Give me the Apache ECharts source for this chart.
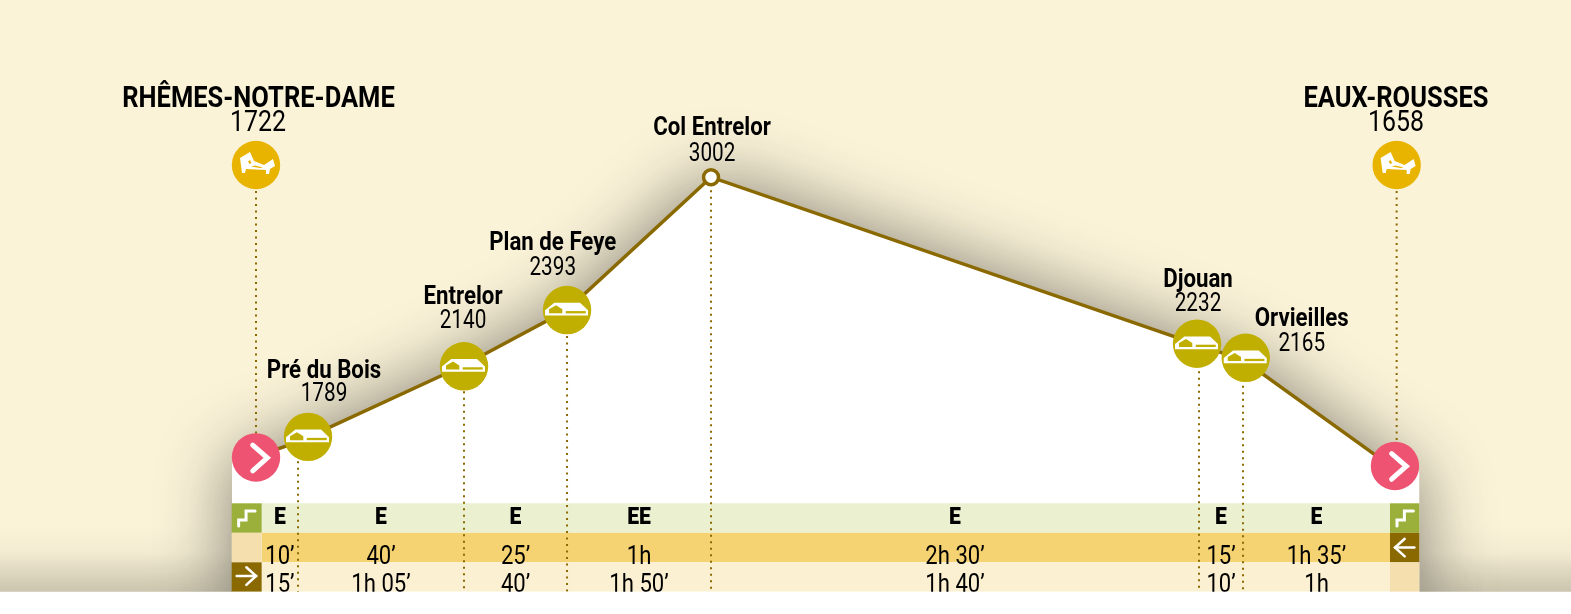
<!DOCTYPE html>
<html>
<head>
<meta charset="utf-8">
<title>Rhêmes-Notre-Dame - Eaux-Rousses</title>
<script src="https://cdn.jsdelivr.net/npm/echarts@6/dist/echarts.min.js"></script>
<style>
html, body { margin: 0; padding: 0; background: #fbf3d8; }
#chart { width: 1571px; height: 614px; }
</style>
</head>
<body>
<div id="chart"></div>
<script>
// stops along the route
var stopNames = ['RHÊMES-NOTRE-DAME', 'Pré du Bois', 'Entrelor', 'Plan de Feye', 'Col Entrelor', 'Djouan', 'Orvieilles', 'EAUX-ROUSSES'];
var stopAltitudes = [1722, 1789, 2140, 2393, 3002, 2232, 2165, 1658];
var stopDistances = [0, 0.467, 2.311, 3.456, 5.056, 10.478, 10.967, 12.674];
var stopKinds = ['bed', 'hut', 'hut', 'hut', 'pass', 'hut', 'hut', 'bed'];

// table under the profile, one value per leg
var difficulty = ['E', 'E', 'E', 'EE', 'E', 'E', 'E'];
var timesBack = ['10’', '40’', '25’', '1h', '2h 30’', '15’', '1h 35’'];
var timesOut = ['15’', '1h 05’', '40’', '1h 50’', '1h 40’', '10’', '1h'];
var tableRows = [difficulty, timesBack, timesOut];
var rowNames = ['difficulty', 'back', 'out'];

// layout only, px relative to the stop on the axes
var markerShift = [[0, 1], [10, -5], [0, 1], [0, 0], [0, 0], [-2, -1.5], [2.7, -2], [-1.7, -4.5]];
var nameShift = [[2.5, -357], [26, -70.5], [-1, -67.5], [-14.3, -66.3], [1, -48.5], [-1, -64.8], [58.7, -40], [-0.7, -371]];
var altShift = [[2, -332.8], [26, -46.8], [-1, -43.7], [-14.3, -41.5], [1, -22.8], [-1, -40.5], [58.7, -15.2], [-0.7, -346.8]];
var bedY = 165;
var edgePad = 24;
var rowFill = ['#ebf1d0', '#f5d373', '#fcf0d2'];
var rowTextShift = [0.5, 10, 8];

var BROWN = '#8a6a00', OLIVE = '#c0af00', GOLD = '#e9b400', PINK = '#ee5472', GREEN = '#9ab03a', PALE = '#f5dfae';
var FONT = 'Roboto';

function label(text, x, y, size, weight, sx) {
    return {
        type: 'text', x: x, y: y, scaleX: sx,
        style: { text: text, fontFamily: FONT, fontSize: size, fontWeight: weight, fill: '#000', align: 'center', verticalAlign: 'middle' }
    };
}
function poly(pts, cx, cy, fill) {
    return { type: 'polygon', x: cx, y: cy, shape: { points: pts }, style: { fill: fill } };
}
function stroke(pts, cx, cy, w) {
    return { type: 'polyline', x: cx, y: cy, shape: { points: pts }, style: { stroke: '#fff', fill: 'none', lineWidth: w, lineCap: 'round', lineJoin: 'miter' } };
}
function disc(cx, cy, r, fill) {
    return { type: 'circle', shape: { cx: cx, cy: cy, r: r }, style: { fill: fill } };
}
function hutIcon(x, y) {
    return [
        disc(x, y, 24.2, OLIVE),
        poly([[-22, 5.5], [-22, 0.3], [-12.7, -7.3], [13, -7.3], [21, 0.3], [21, 5.5]], x, y, '#fff'),
        poly([[-18, 3.3], [-18, -0.7], [-11, -4.7], [-4.7, -0.7], [-4.7, 3.3]], x, y, OLIVE),
        poly([[-1.3, 1], [18.7, 1], [18.7, 3.3], [-1.3, 3.3]], x, y, OLIVE)
    ];
}
function bedIcon(x, y) {
    return [
        disc(x, y, 24.2, GOLD),
        poly([[-16, -7], [-6, -13], [-2, -4], [8, 0], [17, -6], [19, 1], [14, 4], [13, 9], [10, 9], [10, 5], [-10, 4], [-11, 8], [-14, 8]], x, y, '#fff'),
        poly([[-8, -3.5], [-6, -5], [-4.5, -2], [-6.5, -1]], x, y, GOLD),
        poly([[-5, 1.5], [-1, 0.5], [7, 2.5], [4, 3]], x, y, GOLD)
    ];
}
function chevronIcon(x, y) {
    return [
        disc(x, y, 24.2, PINK),
        stroke([[-3.3, -12.3], [11.3, 0.3], [-3.3, 13.3]], x, y, 5)
    ];
}
var stairs = [[-7.7, 8], [-7.7, 2], [-0.3, 2], [-0.3, -7], [8.7, -7]];

function columnEdges() {
    // table runs between the two icon columns, inner edges are the stops
    var e = stopDistances.slice();
    e[0] = 0.063;
    e[e.length - 1] = 12.6;
    return e;
}

var option = {
    animation: false,
    backgroundColor: 'transparent',
    graphic: [
        {
            type: 'rect', z: -5, shape: { x: 0, y: 525, width: 1571, height: 67 },
            style: { fill: new echarts.graphic.LinearGradient(0, 0, 0, 1, [
                { offset: 0, color: 'rgba(70,70,60,0)' },
                { offset: 0.4, color: 'rgba(70,70,60,0.04)' },
                { offset: 1, color: 'rgba(70,70,60,0.27)' }
            ]) }
        },
        { type: 'rect', z: 50, shape: { x: 0, y: 591.7, width: 1571, height: 23 }, style: { fill: '#fff' } }
    ],
    grid: [
        { left: 229, width: 1197, top: 134, height: 483 },
        { left: 229, width: 1197, top: 503.3, height: 88.5 }
    ],
    xAxis: [
        { type: 'value', gridIndex: 0, min: -0.3, max: 13, show: false },
        { type: 'value', gridIndex: 1, min: -0.3, max: 13, show: false }
    ],
    yAxis: [
        { type: 'value', gridIndex: 0, min: 1000, max: 3200, show: false },
        { type: 'category', gridIndex: 1, data: rowNames, inverse: true, show: false }
    ],
    series: [
        // white terrain with the big soft shadow
        {
            type: 'custom', z: 1, coordinateSystem: 'cartesian2d', xAxisIndex: 0, yAxisIndex: 0,
            silent: true,
            data: [0],
            renderItem: function (params, api) {
                var pts = stopDistances.map(function (d, i) { return api.coord([d, stopAltitudes[i]]); });
                var last = pts[pts.length - 1];
                var floor = api.coord([0, 1000])[1];
                var all = [[pts[0][0] - edgePad, floor], [pts[0][0] - edgePad, pts[0][1]]].concat(pts)
                    .concat([[last[0] + edgePad - 1.4, last[1]], [last[0] + edgePad - 1.4, floor]]);
                return {
                    type: 'polygon', shape: { points: all },
                    style: { fill: '#fff', shadowBlur: 72, shadowColor: 'rgba(40,40,40,0.6)' }
                };
            }
        },
        // table bands and icon cells
        {
            type: 'custom', z: 3, coordinateSystem: 'cartesian2d', xAxisIndex: 1, yAxisIndex: 1,
            silent: true,
            data: [0, 1, 2],
            renderItem: function (params, api) {
                var r = params.dataIndex;
                var edges = columnEdges();
                var c0 = api.coord([edges[0], r]);
                var c1 = api.coord([edges[edges.length - 1], r]);
                var h = api.size([0, 1])[1];
                var top = c0[1] - h / 2;
                var leftX = c0[0] - 30, rightX = c1[0];
                var kids = [
                    { type: 'rect', shape: { x: c0[0], y: top, width: c1[0] - c0[0], height: h }, style: { fill: rowFill[r] } }
                ];
                var leftFill = [GREEN, PALE, BROWN][r], rightFill = [GREEN, BROWN, PALE][r];
                kids.push({ type: 'rect', shape: { x: leftX, y: top, width: 30, height: h }, style: { fill: leftFill } });
                kids.push({ type: 'rect', shape: { x: rightX, y: top, width: 29.3, height: h }, style: { fill: rightFill } });
                var lx = leftX + 14.7, rx = rightX + 14.7, my = top + h / 2;
                if (r === 0) {
                    kids.push(stroke(stairs, lx, my, 3));
                    kids.push(stroke(stairs, rx, my, 3));
                } else if (r === 1) {
                    kids.push(stroke([[9.7, 0], [-9.7, 0]], rx, my, 2.5));
                    kids.push(stroke([[0, -8.8], [-9.7, 0], [0, 8.8]], rx, my, 2.5));
                } else {
                    kids.push(stroke([[-9.7, -1], [9.7, -1]], lx, my, 2.5));
                    kids.push(stroke([[0, -9.8], [9.7, -1], [0, 7.8]], lx, my, 2.5));
                }
                return { type: 'group', children: kids };
            }
        },
        // table text, above every band
        {
            type: 'custom', z: 4, coordinateSystem: 'cartesian2d', xAxisIndex: 1, yAxisIndex: 1,
            silent: true,
            data: [0, 1, 2],
            renderItem: function (params, api) {
                var r = params.dataIndex;
                var edges = columnEdges();
                var my = api.coord([0, r])[1];
                return {
                    type: 'group',
                    children: tableRows[r].map(function (t, i) {
                        var mid = api.coord([(edges[i] + edges[i + 1]) / 2, r])[0];
                        if (r === 0) return label(t, mid, my + rowTextShift[r], 23, 900, 0.92);
                        return label(t, mid, my + rowTextShift[r], 26, 400, 0.85);
                    })
                };
            }
        },
        // dotted drop lines
        {
            type: 'custom', z: 4, coordinateSystem: 'cartesian2d', xAxisIndex: 0, yAxisIndex: 0,
            silent: true,
            data: stopNames.map(function (n, i) { return i; }),
            renderItem: function (params, api) {
                var i = params.dataIndex;
                var p = api.coord([stopDistances[i], stopAltitudes[i]]);
                var isEnd = stopKinds[i] === 'bed';
                var y1 = isEnd ? bedY : p[1];
                var y2 = isEnd ? p[1] : 592;
                return {
                    type: 'line', shape: { x1: p[0], y1: y1, x2: p[0], y2: y2 },
                    style: { stroke: BROWN, lineWidth: 2, lineDash: [2, 4.5] }
                };
            }
        },
        // the route
        {
            type: 'line', z: 5, xAxisIndex: 0, yAxisIndex: 0, symbol: 'none', silent: true,
            lineStyle: { color: BROWN, width: 3.5, join: 'miter' },
            data: stopDistances.map(function (d, i) { return [d, stopAltitudes[i]]; })
        },
        // markers and labels
        {
            type: 'custom', z: 6, coordinateSystem: 'cartesian2d', xAxisIndex: 0, yAxisIndex: 0,
            silent: true,
            data: stopNames.map(function (n, i) { return i; }),
            renderItem: function (params, api) {
                var i = params.dataIndex;
                var p = api.coord([stopDistances[i], stopAltitudes[i]]);
                var x = p[0] + markerShift[i][0], y = p[1] + markerShift[i][1];
                var kids = [];
                if (stopKinds[i] === 'bed') {
                    kids = kids.concat(chevronIcon(x, y));
                    kids = kids.concat(bedIcon(p[0], bedY));
                } else if (stopKinds[i] === 'hut') {
                    kids = kids.concat(hutIcon(x, y));
                } else {
                    kids.push({ type: 'circle', shape: { cx: x, cy: y, r: 7.5 }, style: { fill: '#fff', stroke: BROWN, lineWidth: 3.5 } });
                }
                var big = stopKinds[i] === 'bed';
                kids.push(label(stopNames[i], p[0] + nameShift[i][0], p[1] + nameShift[i][1], big ? 30 : 25, 700, big ? 0.85 : 0.89));
                kids.push(label(String(stopAltitudes[i]), p[0] + altShift[i][0], p[1] + altShift[i][1], big ? 30 : 25, 400, 0.83));
                return { type: 'group', children: kids };
            }
        }
    ]
};

var myChart = echarts.init(document.getElementById('chart'));
myChart.setOption(option);
</script>
</body>
</html>
